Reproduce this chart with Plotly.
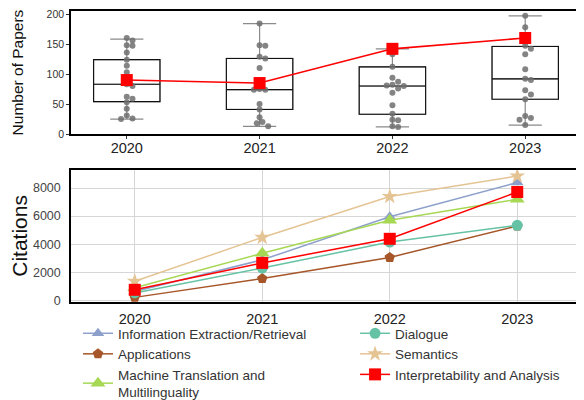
import plotly.graph_objects as go
from plotly.subplots import make_subplots

years = [2020, 2021, 2022, 2023]
year_labels = ["2020", "2021", "2022", "2023"]

# ---- top panel: number of papers per subfield (points), box stats, highlighted series
papers_2020 = [160, 156, 148, 147, 136, 124, 114, 103, 92, 83, 80, 62, 59, 53, 42, 31, 26, 25]
papers_2021 = [184, 148, 147, 129, 126, 110, 75, 74, 74, 50, 41, 28, 20, 18, 13]
papers_2022 = [142, 133, 112, 94, 87, 82, 81, 80, 76, 69, 48, 34, 24, 23, 13, 12]
papers_2023 = [197, 178, 147, 142, 133, 108, 92, 90, 73, 66, 58, 30, 27, 24, 15]
papers_points = [papers_2020, papers_2021, papers_2022, papers_2023]

box_q1 = [54, 41, 33, 58]
box_median = [83, 74, 80, 92]
box_q3 = [124, 126, 112, 146]
box_low = [25, 13, 12, 15]
box_high = [158, 184, 142, 197]

interp_papers = [90, 85, 142, 160]

# ---- bottom panel: citations per subfield
series_names = [
    "Information Extraction/Retrieval",
    "Applications",
    "Machine Translation and<br>Multilinguality",
    "Dialogue",
    "Semantics",
    "Interpretability and Analysis",
]
cit_ie = [620, 2880, 5950, 8400]
cit_app = [200, 1540, 3050, 5300]
cit_mt = [880, 3350, 5700, 7200]
cit_dial = [520, 2290, 4150, 5340]
cit_sem = [1350, 4480, 7400, 8860]
cit_interp = [740, 2660, 4380, 7720]
citations = [cit_ie, cit_app, cit_mt, cit_dial, cit_sem, cit_interp]

colors = ["#8DA0CB", "#A65628", "#A6D854", "#66C2A5", "#E5C494", "#FF0000"]
symbols = ["triangle-up", "pentagon", "triangle-up", "circle", "star", "square"]
msizes = [11, 11, 13, 11, 12, 12]
legend_ids = ["legend", "legend", "legend", "legend2", "legend2", "legend2"]

FONT = "Liberation Sans, Arial, sans-serif"

fig = make_subplots(rows=2, cols=1, vertical_spacing=0.12)


def swarm(vals, x0, px_per_y=0.6, px_per_x=133.0, d=5.2):
    """simple beeswarm: returns x positions (data units) so markers don't overlap"""
    order = sorted(range(len(vals)), key=lambda i: -vals[i])
    placed = []
    xs = [x0] * len(vals)
    for i in order:
        y = vals[i] * px_per_y
        k = 0
        while True:
            cands = [0.0] if k == 0 else [k * 0.55 * d, -k * 0.55 * d]
            ok_off = None
            for off in cands:
                if all((off - po) ** 2 + (y - py) ** 2 >= d * d for po, py in placed):
                    ok_off = off
                    break
            if ok_off is not None:
                placed.append((ok_off, y))
                xs[i] = x0 + ok_off / px_per_x
                break
            k += 1
    return xs


# whisker box (gray) and body box (black)
fig.add_trace(go.Box(
    x=years, q1=box_q1, median=box_median, q3=box_q3,
    lowerfence=box_low, upperfence=box_high,
    width=0.5, whiskerwidth=0.5, line=dict(color="#8a8a8a", width=1.2),
    fillcolor="rgba(0,0,0,0)", showlegend=False, hoverinfo="skip",
), row=1, col=1)
fig.add_trace(go.Box(
    x=years, q1=box_q1, median=box_median, q3=box_q3,
    lowerfence=box_q1, upperfence=box_q3,
    width=0.5, whiskerwidth=0.5, line=dict(color="#111111", width=1.1),
    fillcolor="rgba(255,255,255,0)", showlegend=False, hoverinfo="skip",
), row=1, col=1)

for yr, vals in zip(years, papers_points):
    fig.add_trace(go.Scatter(
        x=swarm(vals, yr), y=vals, mode="markers",
        marker=dict(color="rgba(110,110,110,0.85)", size=6),
        showlegend=False, hoverinfo="skip",
    ), row=1, col=1)

fig.add_trace(go.Scatter(
    x=years, y=interp_papers, mode="lines+markers",
    line=dict(color="#FF0000", width=1.6),
    marker=dict(symbol="square", size=12, color="#FF0000"),
    showlegend=False,
), row=1, col=1)

for name, vals, c, s, ms, lg in zip(series_names, citations, colors, symbols, msizes, legend_ids):
    fig.add_trace(go.Scatter(
        x=years, y=vals, name=name, mode="lines+markers",
        line=dict(color=c, width=1.5),
        marker=dict(symbol=s, size=ms, color=c),
        legend=lg,
    ), row=2, col=1)

legend_common = dict(
    orientation="v", yanchor="top", xanchor="left",
    font=dict(size=13.5, color="#333333"), valign="middle",
    itemwidth=30, tracegroupgap=0, bgcolor="rgba(0,0,0,0)",
)

# page body adds an 8px offset: figure is sized to fill the rest of the window
fig.update_layout(
    width=576, height=392,
    margin=dict(l=63, r=3, t=3, b=98, autoexpand=False),
    paper_bgcolor="white", plot_bgcolor="white",
    boxmode="overlay",
    font=dict(family=FONT, color="#222222"),
    legend=dict(x=0.0137, y=-0.055, **legend_common),
    legend2=dict(x=0.557, y=-0.055, **legend_common),
)

fig.update_layout(
    yaxis=dict(domain=[0.577, 1.0]),
    yaxis2=dict(domain=[0.0, 0.454]),
)

fig.update_xaxes(
    tickvals=years, ticktext=year_labels, tickfont=dict(size=14.5, color="#222222"),
    showline=True, linecolor="black", linewidth=1.5, mirror=True,
    zeroline=False,
)
fig.update_xaxes(range=[2019.58, 2023.42], showgrid=False, ticks="outside",
                 ticklen=3, tickcolor="#333", ticklabelstandoff=-3, row=1, col=1)
fig.update_xaxes(range=[2019.5, 2023.5], showgrid=True, gridcolor="#d6d6d6",
                 gridwidth=1, ticks="", ticklabelstandoff=3, row=2, col=1)

fig.update_yaxes(
    showline=True, linecolor="black", linewidth=1.5, mirror=True, zeroline=False,
    ticklabeloverflow="allow",
)
fig.update_yaxes(range=[0, 205], tickvals=[0, 50, 100, 150, 200], showgrid=False,
                 ticks="outside", ticklen=3, tickcolor="#333",
                 tickfont=dict(size=10.5, color="#333333"),
                 title=dict(text="Number of Papers", font=dict(size=15.5, color="#111111"),
                            standoff=19),
                 row=1, col=1)
fig.update_yaxes(range=[-130, 9300], tickvals=[0, 2000, 4000, 6000, 8000],
                 showgrid=True, gridcolor="#d6d6d6", gridwidth=1, ticks="",
                 tickfont=dict(size=12.5, color="#444444"),
                 ticklabelstandoff=6,
                 title=dict(text="Citations", font=dict(size=21, color="#111111"),
                            standoff=16),
                 row=2, col=1)

fig.write_html("out.html")
